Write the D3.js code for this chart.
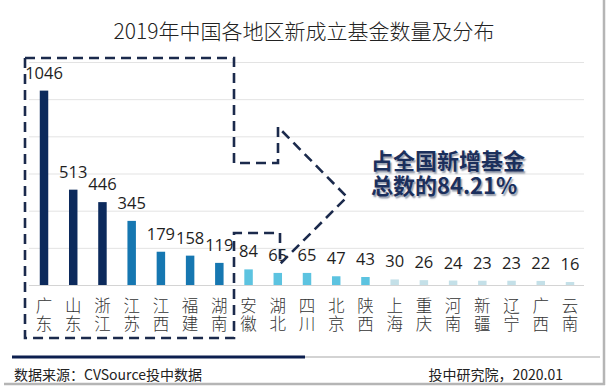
<!DOCTYPE html>
<html><head><meta charset="utf-8">
<script src="https://cdn.jsdelivr.net/npm/d3@7/dist/d3.min.js"></script>
<style>
html,body{margin:0;padding:0;background:#fff;}
svg{display:block;}
.ann{font-family:'Noto Sans CJK SC','Noto Sans',sans-serif;font-size:22px;font-weight:700;color:#1b2f5c;line-height:25px;text-shadow:1.5px 1.5px 1.5px rgba(120,130,150,0.8);white-space:nowrap;margin:0;}
</style></head>
<body>
<svg id="chart" width="610" height="388"></svg>
<script>
const categories = ["广东","山东","浙江","江苏","江西","福建","湖南","安徽","湖北","四川","北京","陕西","上海","重庆","河南","新疆","辽宁","广西","云南"];
const values = [1046,513,446,345,179,158,119,84,65,65,47,43,30,26,24,23,23,22,16];
const yTicks = [0,200,400,600,800,1000,1200];
const title = "2019年中国各地区新成立基金数量及分布";
const annotation = ["占全国新增基金","总数的84.21%"];
const sourceText = "数据来源：CVSource投中数据";
const creditText = "投中研究院，2020.01";

const colorFor = i => i < 3 ? "#0c2a5c" : i < 7 ? "#1677b1" : i < 12 ? "#5cc3e0" : "#c4e0e8";

const svg = d3.select("#chart");
const cjk = "'Noto Sans CJK SC','Noto Sans',sans-serif";
const num = "'Open Sans','Noto Sans CJK SC',sans-serif";

// frame shadow
svg.append("rect").attr("x",0).attr("y",0).attr("width",610).attr("height",388).attr("fill","#fff");
svg.append("line").attr("x1",604).attr("x2",604).attr("y1",0).attr("y2",385).attr("stroke","#b5b5b5").attr("stroke-width",2.5);
svg.append("line").attr("x1",4).attr("x2",605).attr("y1",384).attr("y2",384).attr("stroke","#b5b5b5").attr("stroke-width",2.5);

// title
svg.append("text").attr("x",304).attr("y",39).attr("text-anchor","middle")
  .attr("font-family",cjk).attr("font-size",21).attr("font-weight",300).attr("fill","#222").text(title);

const x = d3.scaleBand().domain(categories).range([29.4,584.6]).paddingInner(0.71).paddingOuter(0.355);
const y = d3.scaleLinear().domain([0,1200]).range([285,62]);

// gridlines
svg.append("g").selectAll("line").data(yTicks).join("line")
  .attr("x1",29).attr("x2",584)
  .attr("y1",d=>y(d)+0.5).attr("y2",d=>y(d)+0.5)
  .attr("stroke",d=>d===0?"#d4d4d4":"#e3e3e3").attr("stroke-width",1);

// bars
svg.append("g").selectAll("rect").data(values).join("rect")
  .attr("x",(d,i)=>x(categories[i])).attr("width",x.bandwidth())
  .attr("y",d=>y(d)).attr("height",d=>y(0)-y(d))
  .attr("fill",(d,i)=>colorFor(i));

// value labels
svg.append("g").selectAll("text").data(values).join("text")
  .attr("x",(d,i)=>x(categories[i])+x.bandwidth()/2).attr("y",d=>y(d)-12)
  .attr("text-anchor","middle").attr("font-family",num).attr("font-size",16.5)
  .attr("fill","#1e1e1e").text(d=>d);

// category labels (vertical text)
svg.append("g").selectAll("text").data(categories).join("text")
  .attr("x",d=>x(d)+x.bandwidth()/2).attr("y",297)
  .style("writing-mode","vertical-rl").style("text-orientation","upright")
  .attr("letter-spacing",1.5)
  .attr("font-family",cjk).attr("font-size",16.5).attr("font-weight",300).attr("fill","#333")
  .text(d=>d);

// dashed arrow outline
svg.append("path")
  .attr("d","M25,58 H234 V163 H278 V127 L347,197 L280,264 V233 H234 V338 H25 Z")
  .attr("fill","none").attr("stroke","#1b2a4c").attr("stroke-width",2.6)
  .attr("stroke-dasharray","10,6").attr("stroke-linejoin","miter");

// annotation (one text block, two lines)
const fo = svg.append("foreignObject").attr("x",371).attr("y",147).attr("width",200).attr("height",56);
fo.append("xhtml:div").attr("class","ann").html(annotation.join("<br>"));

// footer lines
svg.append("line").attr("x1",12).attr("x2",305).attr("y1",357).attr("y2",357).attr("stroke","#0c1f4f").attr("stroke-width",3);
svg.append("line").attr("x1",305).attr("x2",600).attr("y1",357).attr("y2",357).attr("stroke","#d3d3d3").attr("stroke-width",2);

svg.append("text").attr("x",14).attr("y",380).attr("font-family",cjk).attr("font-size",14).attr("fill","#222").text(sourceText);
svg.append("text").attr("x",563).attr("y",380).attr("text-anchor","end").attr("font-family",cjk).attr("font-size",14).attr("fill","#222").text(creditText);
</script>
</body></html>
